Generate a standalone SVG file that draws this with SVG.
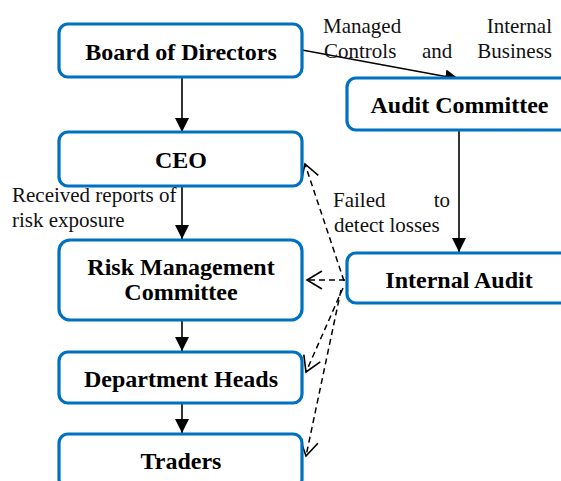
<svg xmlns="http://www.w3.org/2000/svg" width="561" height="481" viewBox="0 0 561 481">
<style>
.box{fill:#fff;stroke:#0070C0;stroke-width:3.2}
.nt{font-family:"Liberation Serif","Times New Roman",serif;font-weight:bold;font-size:24px;fill:#000;text-anchor:middle}
.lb{font-family:"Liberation Serif","Times New Roman",serif;font-size:21px;fill:#111}
.sol{stroke:#000;stroke-width:1.6;fill:none;marker-end:url(#ah)}
.dsh{stroke:#000;stroke-width:1.5;fill:none;stroke-dasharray:6 4;marker-end:url(#oh)}
</style>
<defs>
<marker id="ah" markerUnits="userSpaceOnUse" markerWidth="16" markerHeight="14" refX="14" refY="7" orient="auto">
<path d="M0,0 L14,7 L0,14 Z" fill="#000"/>
</marker>
<marker id="oh" markerUnits="userSpaceOnUse" markerWidth="18" markerHeight="20" refX="16" refY="10" orient="auto">
<path d="M1,1 L16,10 L1,19" fill="none" stroke="#000" stroke-width="1.6"/>
</marker>
</defs>
<rect width="561" height="481" fill="#fff"/>
<g id="connectors">
<line class="sol" x1="182" y1="78" x2="182" y2="132"/>
<line class="sol" x1="182" y1="187" x2="182" y2="239"/>
<line class="sol" x1="182" y1="321" x2="182" y2="351"/>
<line class="sol" x1="182" y1="404" x2="182" y2="433"/>
<line class="sol" x1="459" y1="131" x2="459" y2="252"/>
<line class="sol" x1="302" y1="50" x2="459" y2="79"/>
<line class="dsh" x1="344" y1="281" x2="305" y2="164"/>
<line class="dsh" x1="345" y1="280" x2="307" y2="280"/>
<line class="dsh" x1="343" y1="288" x2="306" y2="372"/>
<line class="dsh" x1="341" y1="290" x2="306" y2="456"/>
</g>
<g id="board">
<rect class="box" x="59" y="24" width="243" height="53" rx="9"/>
<text class="nt" x="181" y="60">Board of Directors</text>
</g>
<g id="audit-committee">
<rect class="box" x="347" y="78" width="225" height="52" rx="9"/>
<text class="nt" x="459.5" y="113">Audit Committee</text>
</g>
<g id="ceo">
<rect class="box" x="59" y="132" width="243" height="54" rx="9"/>
<text class="nt" x="181" y="168">CEO</text>
</g>
<g id="risk-committee">
<rect class="box" x="59" y="240" width="243" height="80" rx="11"/>
<text class="nt" x="181" y="275">Risk Management</text>
<text class="nt" x="181" y="300">Committee</text>
</g>
<g id="internal-audit">
<rect class="box" x="347" y="253" width="225" height="50" rx="9"/>
<text class="nt" x="459" y="288">Internal Audit</text>
</g>
<g id="department-heads">
<rect class="box" x="59" y="352" width="243" height="51" rx="9"/>
<text class="nt" x="181" y="387">Department Heads</text>
</g>
<g id="traders">
<rect class="box" x="59" y="434" width="243" height="54" rx="9"/>
<text class="nt" x="181" y="469">Traders</text>
</g>
<g id="labels">
<text class="lb" x="323" y="33">Managed</text>
<text class="lb" x="552" y="33" text-anchor="end">Internal</text>
<text class="lb" x="324" y="58">Controls</text>
<text class="lb" x="422" y="58">and</text>
<text class="lb" x="552" y="58" text-anchor="end">Business</text>
<text class="lb" x="12" y="202">Received reports of</text>
<text class="lb" x="12" y="227">risk exposure</text>
<text class="lb" x="333" y="207">Failed</text>
<text class="lb" x="450" y="207" text-anchor="end">to</text>
<text class="lb" x="334" y="232">detect losses</text>
</g>
</svg>
